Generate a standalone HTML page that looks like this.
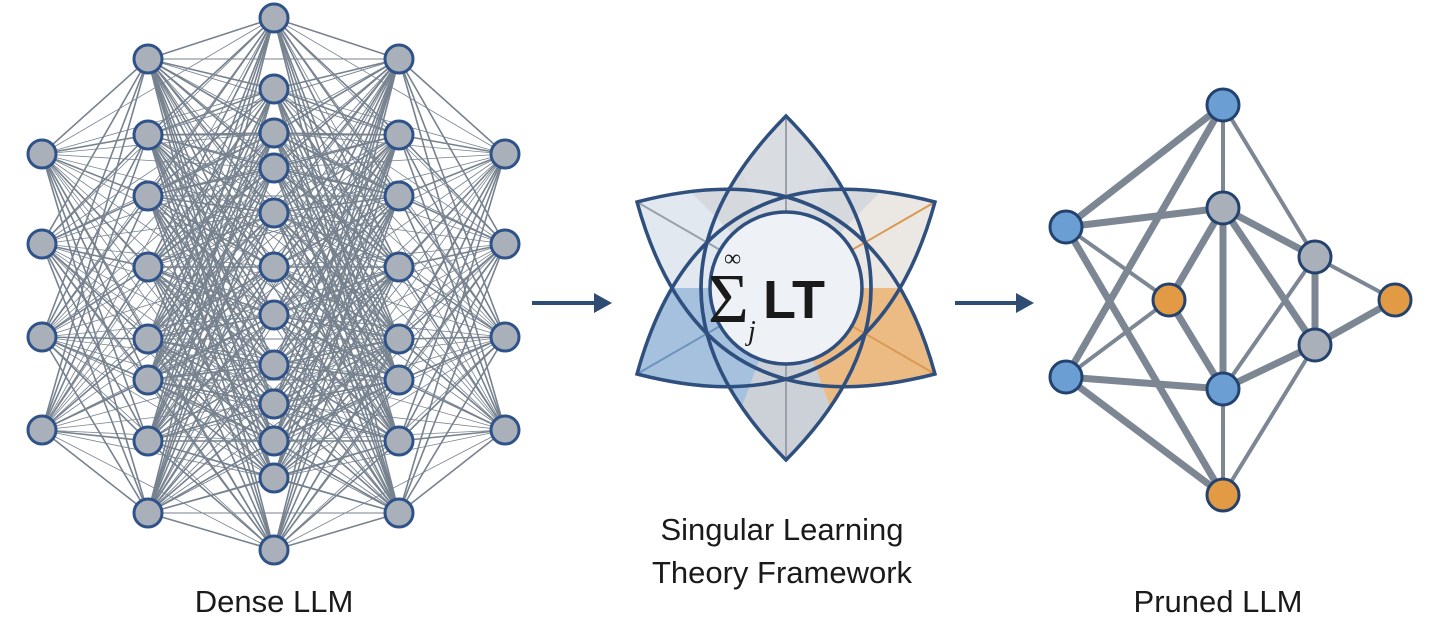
<!DOCTYPE html>
<html><head><meta charset="utf-8"><style>
html,body{margin:0;padding:0;background:#fff;}
svg{display:block}
text{font-family:"Liberation Sans",sans-serif;fill:#1a1a1a}
</style></head><body>
<svg id="s" width="1438" height="630" viewBox="0 0 1438 630" xmlns="http://www.w3.org/2000/svg">
<defs>
 <clipPath id="star">
   <path d="M0,-172 Q170,0 0,172 Q-170,0 0,-172 Z" transform="translate(786,288)"/>
   <path d="M0,-172 Q170,0 0,172 Q-170,0 0,-172 Z" transform="translate(786,288) rotate(60)"/>
   <path d="M0,-172 Q170,0 0,172 Q-170,0 0,-172 Z" transform="translate(786,288) rotate(-60)"/>
 </clipPath>
</defs>
<rect width="1438" height="630" fill="#fff"/>
<g id="dense"></g>
<g stroke="#2f4d73" stroke-width="4" fill="#2f4d73">
<line x1="532" y1="303" x2="598" y2="303"/><path d="M612 303 L594 293 L594 313 Z" stroke="none"/>
<line x1="955" y1="303" x2="1020" y2="303"/><path d="M1034 303 L1016 293 L1016 313 Z" stroke="none"/>
</g>
<g clip-path="url(#star)">
 <rect x="540" y="60" width="500" height="460" fill="#d5d9de"/>
 <path d="M786,288 L560,60 L560,288 Z" fill="#e1e8f0"/>
 <path d="M786,288 L560,288 L560,520 L700,520 Z" fill="#a6c1de"/>
 <path d="M786,288 L1010,60 L1010,288 Z" fill="#ebe8e4"/>
 <path d="M786,288 L1010,288 L1010,520 L872,520 Z" fill="#ecbb84"/>
 <path d="M786,288 L700,60 L872,60 Z" fill="#d9dde2"/>
 <path d="M786,288 L700,520 L872,520 Z" fill="#ccd1d7"/>
</g>
<g stroke-width="2">
 <line x1="786" y1="116" x2="786" y2="460" stroke="#9aa1aa"/>
 <line x1="786" y1="288" x2="637" y2="202" stroke="#9aa1aa"/>
 <line x1="786" y1="288" x2="637" y2="374" stroke="#6f93bf"/>
 <line x1="786" y1="288" x2="935" y2="202" stroke="#d99a52"/>
 <line x1="786" y1="288" x2="935" y2="374" stroke="#d99a52"/>
</g>
<g transform="translate(786,288)">
 <g fill="none" stroke="#2f4f7e" stroke-width="3.5">
  <path d="M0,-172 Q170,0 0,172 Q-170,0 0,-172 Z"/>
  <path d="M0,-172 Q170,0 0,172 Q-170,0 0,-172 Z" transform="rotate(60)"/>
  <path d="M0,-172 Q170,0 0,172 Q-170,0 0,-172 Z" transform="rotate(-60)"/>
 </g>
 <circle r="76" fill="#eef1f5" stroke="#2f4f7e" stroke-width="3.5"/>
</g>
<text x="708" y="322" font-size="70" style="font-family:'Liberation Serif',serif" fill="#2f4466">Σ</text>
<text x="724" y="266" font-size="24" style="font-family:'Liberation Serif',serif" fill="#2f4466">∞</text>
<text x="748" y="340" font-size="28" font-style="italic" style="font-family:'Liberation Serif',serif" fill="#2f4466">j</text>
<text x="763" y="318" font-size="54" font-weight="bold" fill="#2f4466">LT</text>
<g id="pruned"></g>
<text x="274" y="612" font-size="31" text-anchor="middle">Dense LLM</text>
<text x="782" y="540" font-size="31" text-anchor="middle">Singular Learning</text>
<text x="782" y="583" font-size="31" text-anchor="middle">Theory Framework</text>
<text x="1218" y="612" font-size="31" text-anchor="middle">Pruned LLM</text>
</svg>
<script>
var NS="http://www.w3.org/2000/svg";
function el(p,t,a){var e=document.createElementNS(NS,t);for(var k in a)e.setAttribute(k,a[k]);p.appendChild(e);return e;}
var cols=[[42,[154,244,337,430]],[148,[59,135,196,267,339,380,441,513]],[274,[18,89,133,168,213,267,315,365,404,441,478,550]],[399,[59,135,196,267,339,380,441,513]],[505,[154,244,337,430]]];
var d=document.getElementById("dense");
function conn(a,b,w){a[1].forEach(function(y1){b[1].forEach(function(y2){el(d,"line",{x1:a[0],y1:y1,x2:b[0],y2:y2,stroke:"#77828f","stroke-width":w});});});}
for(var i=0;i<4;i++)conn(cols[i],cols[i+1],1.6);
conn(cols[1],cols[3],0.9);
conn(cols[0],cols[2],0.8);conn(cols[2],cols[4],0.8);
cols.forEach(function(c){c[1].forEach(function(y){el(d,"circle",{cx:c[0],cy:y,r:14,fill:"#a9b0b9",stroke:"#2f5289","stroke-width":3});});});
var N={t:[1223,105],m:[1223,208],lu:[1066,227],o1:[1169,300],rg:[1315,257],or:[1395,300],rl:[1315,345],ll:[1066,377],b:[1223,389],ob:[1223,495]};
var E=[["t","lu",7],["t","ll",7],["t","m",4],["t","rg",4],["lu","m",7],["lu","o1",4],["lu","ob",7],["m","o1",7],["m","b",7],["m","rg",7],["m","rl",7],["o1","ll",4],["o1","b",7],["rg","b",4],["rg","rl",7],["rg","or",4],["rl","or",7],["rl","b",7],["rl","ob",4],["ll","b",7],["ll","ob",7],["b","ob",4]];
var p=document.getElementById("pruned");
E.forEach(function(e){var a=N[e[0]],b=N[e[1]];el(p,"line",{x1:a[0],y1:a[1],x2:b[0],y2:b[1],stroke:"#7d8794","stroke-width":e[2]});});
var col={t:"#6b9fd4",m:"#a9b0b9",lu:"#6b9fd4",o1:"#e39a45",rg:"#a9b0b9",or:"#e39a45",rl:"#a9b0b9",ll:"#6b9fd4",b:"#6b9fd4",ob:"#e39a45"};
for(var k in N)el(p,"circle",{cx:N[k][0],cy:N[k][1],r:16,fill:col[k],stroke:"#24426e","stroke-width":3});
</script>
</body></html>
